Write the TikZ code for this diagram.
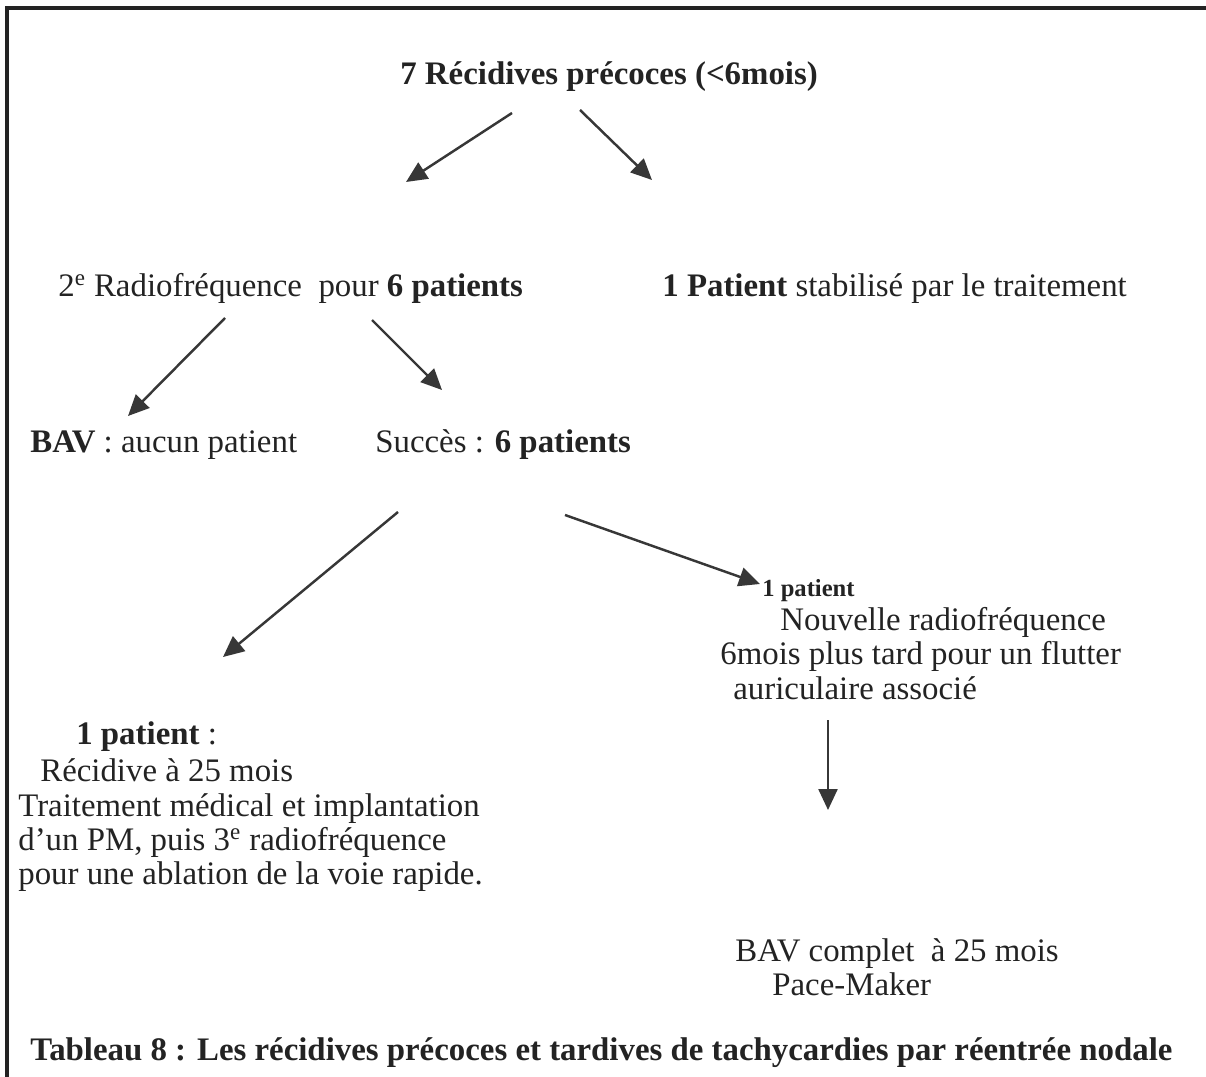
\documentclass[tikz,border=0pt]{standalone}
\usepackage{fontspec}
\setmainfont{Liberation Serif}
\usepackage{tikz}
\usetikzlibrary{arrows.meta, positioning}
\definecolor{inkgray}{RGB}{35,35,35}
\definecolor{arrowgray}{RGB}{55,55,55}

\begin{document}
\begin{tikzpicture}[
        x=0.02cm, y=-0.02cm,
        txt/.style={inner sep=0pt, anchor=base west, text=inkgray, font=\fontsize{18.7}{19.5}\selectfont},
        blocktxt/.style={txt, anchor=north west, align=left},
        arrow/.style={-{Triangle[length=0.42cm, width=0.38cm]}, line width=1.4pt, draw=arrowgray, fill=arrowgray}
    ]
        \useasboundingbox (0,0) rectangle (1206,1077);
        \draw[line width=1.8pt, inkgray] (1206,8) -- (7,8) -- (7,1077);

        % first level
        \node[txt] (title) at (400,85) {\textbf{7 Récidives précoces (<6mois)}};
        \node[txt] (radio) at (58,297) {2\textsuperscript{e} Radiofréquence\ \ pour \textbf{6 patients}};
        \node[txt] (stab) at (662,297) {\textbf{1 Patient} stabilisé par le traitement};

        % second level
        \node[txt] (bav) at (30,452) {\textbf{BAV} : aucun patient};
        \node[txt] (succes) at (375,452) {Succès : \textbf{6 patients}};

        % late recurrences
        \node[blocktxt] (recid) at (18,721) {\hspace{1.16cm}\textbf{1 patient} :\\[2pt]
            \hspace{0.44cm}Récidive à 25 mois\\
            Traitement médical et implantation\\
            d'un PM, puis 3\textsuperscript{e} radiofréquence\\
            pour une ablation de la voie rapide.};
        \node[blocktxt] (flutter) at (720,579) {\hspace{0.84cm}{\fontsize{14}{16}\selectfont\textbf{1 patient}}\\
            \hspace{1.2cm}Nouvelle radiofréquence\\
            6mois plus tard pour un flutter\\
            \hspace{0.26cm}auriculaire associé};
        \node[blocktxt] (pm) at (735,938) {BAV complet\ \ à 25 mois\\
            \hspace{0.74cm}Pace-Maker};

        \node[txt] (caption) at (30,1060) {\textbf{Tableau 8 : Les récidives précoces et tardives de tachycardies par réentrée nodale}};

        % arrow ends
        \coordinate (t1) at (512,113);  \coordinate (t2) at (406,182);
        \coordinate (t3) at (580,110);  \coordinate (t4) at (652,180);
        \coordinate (r1) at (225,318);  \coordinate (r2) at (128,416);
        \coordinate (r3) at (372,320);  \coordinate (r4) at (442,390);
        \coordinate (s1) at (398,512);  \coordinate (s2) at (223,657);
        \coordinate (s3) at (565,515);  \coordinate (s4) at (760,584);
        \coordinate (f1) at (828,720);  \coordinate (f2) at (828,810);

        \draw[arrow] (t1) -- (t2);
        \draw[arrow] (t3) -- (t4);
        \draw[arrow] (r1) -- (r2);
        \draw[arrow] (r3) -- (r4);
        \draw[arrow] (s1) -- (s2);
        \draw[arrow] (s3) -- (s4);
        \draw[arrow] (f1) -- (f2);
    \end{tikzpicture}
\end{document}
